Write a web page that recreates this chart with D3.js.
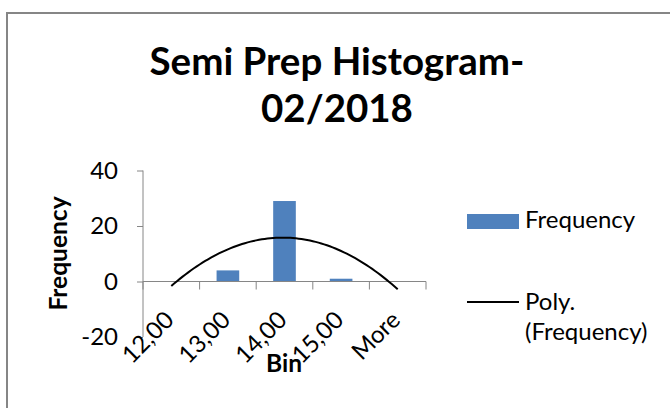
<!DOCTYPE html>
<html>
<head>
<meta charset="utf-8">
<script src="https://cdn.jsdelivr.net/npm/d3@7"></script>
<style>
  body { margin: 0; background: #fff; }
  text { font-family: Lato, "Open Sans", sans-serif; fill: #000; }
</style>
</head>
<body>
<script>
// data
const bins = ['12,00', '13,00', '14,00', '15,00', 'More'];
const frequency = [0, 4, 29, 1, 0];
const yTicks = [-20, 0, 20, 40];

// layout
const width = 670;
const height = 408;
const plot = {left: 143, right: 426, top: 170.5, bottom: 337};

const svg = d3.select('body')
    .append('svg')
    .attr('width', width)
    .attr('height', height);

// chart border
svg.append('rect')
    .attr('x', 7)
    .attr('y', 13)
    .attr('width', 720)
    .attr('height', 440)
    .attr('fill', 'none')
    .attr('stroke', '#868686')
    .attr('stroke-width', 2);

// title
const title = svg.append('text')
    .attr('text-anchor', 'middle')
    .attr('font-weight', 'bold')
    .attr('font-size', 38.5);
title.append('tspan').attr('x', 337).attr('y', 75).text('Semi Prep Histogram-');
title.append('tspan').attr('x', 337).attr('y', 122).text('02/2018');

const xScale = d3.scaleBand()
    .domain(bins)
    .range([plot.left, plot.right])
    .paddingInner(0.6)
    .paddingOuter(0.3);

const yScale = d3.scaleLinear()
    .domain([-20, 40])
    .range([plot.bottom, plot.top]);

// y axis
const yAxis = d3.axisLeft(yScale)
    .tickValues(yTicks)
    .tickFormat(d => String(d))
    .tickSize(6)
    .tickPadding(19);
const gy = svg.append('g')
    .attr('transform', 'translate(' + plot.left + ',0)')
    .call(yAxis);
gy.select('.domain').attr('stroke', '#868686').attr('d', 'M0,' + plot.top + 'V' + plot.bottom);
gy.selectAll('.tick line').attr('stroke', '#868686');
gy.selectAll('.tick text').attr('font-size', 24).attr('font-family', 'Lato').attr('fill', '#000');

// bars
svg.selectAll('rect.bar')
    .data(frequency)
    .enter()
    .append('rect')
    .attr('class', 'bar')
    .attr('fill', '#4F81BD')
    .attr('x', (d, i) => xScale(bins[i]))
    .attr('width', xScale.bandwidth())
    .attr('y', d => yScale(Math.max(d, 0)))
    .attr('height', d => Math.abs(yScale(d) - yScale(0)));

// x axis at zero
const x0 = yScale(0);
const gx = svg.append('g')
    .attr('transform', 'translate(0,' + x0 + ')')
    .call(d3.axisBottom(xScale).tickSize(0).tickSizeOuter(0));
gx.select('.domain').attr('stroke', '#868686').attr('d', 'M' + plot.left + ',0H' + plot.right);
gx.selectAll('.tick text')
    .attr('font-size', 24)
    .attr('font-family', 'Lato')
    .attr('fill', '#000')
    .attr('text-anchor', 'end')
    .attr('y', 0)
    .attr('dy', '0.35em')
    .attr('transform', 'translate(-2,34) rotate(-45)');

// tick marks between bins
const bounds = d3.range(bins.length + 1).map(i => plot.left + i * xScale.step());
gx.selectAll('line.bound')
    .data(bounds)
    .enter()
    .append('line')
    .attr('class', 'bound')
    .attr('x1', d => d)
    .attr('x2', d => d)
    .attr('y1', 0)
    .attr('y2', 8)
    .attr('stroke', '#868686');

// polynomial trendline (order 2, least squares over bin index 1..n)
function polyFit2(ys) {
    const xs = ys.map((d, i) => i + 1);
    const n = ys.length;
    const s = k => d3.sum(xs, x => Math.pow(x, k));
    const sy = k => d3.sum(xs, (x, i) => Math.pow(x, k) * ys[i]);
    const m = [
        [n, s(1), s(2), sy(0)],
        [s(1), s(2), s(3), sy(1)],
        [s(2), s(3), s(4), sy(2)]
    ];
    for (let c = 0; c < 3; c++) {
        for (let r = c + 1; r < 3; r++) {
            const f = m[r][c] / m[c][c];
            for (let k = c; k < 4; k++) m[r][k] -= f * m[c][k];
        }
    }
    const coef = [0, 0, 0];
    for (let r = 2; r >= 0; r--) {
        let v = m[r][3];
        for (let k = r + 1; k < 3; k++) v -= m[r][k] * coef[k];
        coef[r] = v / m[r][r];
    }
    return x => coef[0] + coef[1] * x + coef[2] * x * x;
}

const trend = polyFit2(frequency);
const xt = d3.scaleLinear()
    .domain([1, bins.length])
    .range([xScale(bins[0]) + xScale.bandwidth() / 2, xScale(bins[bins.length - 1]) + xScale.bandwidth() / 2]);
const trendPts = d3.range(1, bins.length + 0.001, 0.05);

svg.append('path')
    .datum(trendPts)
    .attr('fill', 'none')
    .attr('stroke', '#000')
    .attr('stroke-width', 2)
    .attr('d', d3.line().x(t => xt(t)).y(t => yScale(trend(t))));

// axis titles
svg.append('text')
    .attr('transform', 'translate(67,253.5) rotate(-90)')
    .attr('text-anchor', 'middle')
    .attr('font-weight', 'bold')
    .attr('font-size', 24.5)
    .text('Frequency');

svg.append('text')
    .attr('x', 284)
    .attr('y', 372)
    .attr('text-anchor', 'middle')
    .attr('font-weight', 'bold')
    .attr('font-size', 24.5)
    .text('Bin');

// legend
const legend = svg.append('g');
legend.append('rect')
    .attr('x', 467)
    .attr('y', 214)
    .attr('width', 52)
    .attr('height', 15)
    .attr('fill', '#4F81BD');
legend.append('text')
    .attr('x', 525)
    .attr('y', 228)
    .attr('font-size', 24)
    .text('Frequency');
legend.append('line')
    .attr('x1', 467)
    .attr('x2', 519)
    .attr('y1', 302)
    .attr('y2', 302)
    .attr('stroke', '#000')
    .attr('stroke-width', 2);
const ltxt = legend.append('text').attr('font-size', 24);
ltxt.append('tspan').attr('x', 525).attr('y', 310).text('Poly.');
ltxt.append('tspan').attr('x', 525).attr('y', 340).text('(Frequency)');
</script>
</body>
</html>
